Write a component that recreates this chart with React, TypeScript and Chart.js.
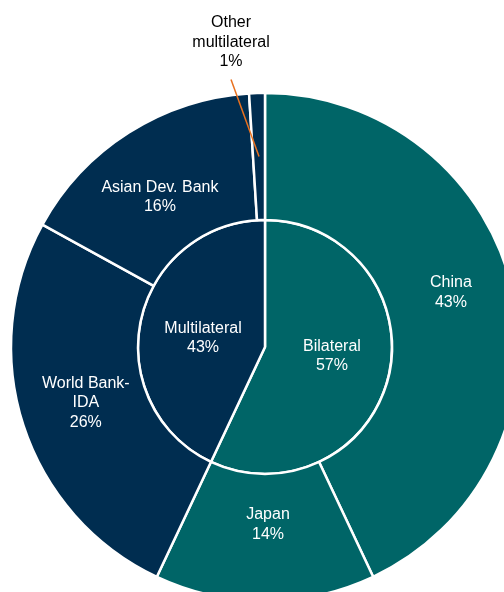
import React, { useEffect, useRef } from "react";
import { Chart, registerables } from "chart.js";

Chart.register(...registerables);

const innerLabels = ["Bilateral", "Multilateral"];
const innerValues = [57, 43];
const outerLabels = ["China", "Japan", "World Bank-\nIDA", "Asian Dev. Bank", "Other\nmultilateral"];
const outerValues = [43, 14, 26, 16, 1];
const outerGroup = [0, 0, 1, 1, 1];

const TEAL = "#006567";
const NAVY = "#002D50";
const groupColors = [TEAL, NAVY];
const FONT = "16px 'Liberation Sans', Arial, sans-serif";
const LINE_H = 19.5;

// label placement nudges (layout only), per ring and slice
const nudges = [
  [[0, -13], [3, -13], [2, -3], [-3, 11], [0, 0]],
  [[5, -5], [0, 5]],
];

const labelPlugin = {
  id: "sliceLabels",
  afterDatasetsDraw(chart: any) {
    const ctx = chart.ctx;
    ctx.save();
    ctx.font = FONT;
    ctx.textAlign = "center";
    ctx.textBaseline = "middle";
    const sets = [
      { labels: outerLabels, values: outerValues },
      { labels: innerLabels, values: innerValues },
    ];
    sets.forEach((s, di) => {
      const meta = chart.getDatasetMeta(di);
      meta.data.forEach((arc: any, i: number) => {
        const text = `${s.labels[i]}\n${s.values[i]}%`;
        const lines = text.split("\n");
        const pos = arc.tooltipPosition();
        if (di === 0 && i === s.labels.length - 1) {
          const sx = pos.x - 28;
          const sy = pos.y - 77;
          ctx.strokeStyle = "#E8711F";
          ctx.lineWidth = 1.5;
          ctx.beginPath();
          ctx.moveTo(sx, sy);
          ctx.lineTo(pos.x, pos.y);
          ctx.stroke();
          ctx.fillStyle = "#000000";
          const baseY = sy - 18 - (lines.length - 1) * LINE_H;
          lines.forEach((ln, k) => ctx.fillText(ln, sx, baseY + k * LINE_H));
          return;
        }
        const [nx, ny] = nudges[di][i];
        ctx.fillStyle = "#FFFFFF";
        const y0 = pos.y + ny - ((lines.length - 1) * LINE_H) / 2;
        lines.forEach((ln, k) => ctx.fillText(ln, pos.x + nx, y0 + k * LINE_H));
      });
    });
    ctx.restore();
  },
};

export default function App() {
  const ref = useRef<HTMLCanvasElement | null>(null);
  useEffect(() => {
    if (!ref.current) return;
    const chart = new Chart(ref.current, {
      type: "doughnut",
      data: {
        labels: outerLabels,
        datasets: [
          {
            data: outerValues,
            backgroundColor: outerGroup.map((g) => groupColors[g]),
            borderColor: "#FFFFFF",
            borderWidth: 2.5,
          },
          {
            data: innerValues,
            backgroundColor: groupColors,
            borderColor: "#FFFFFF",
            borderWidth: 2.5,
          },
        ],
      },
      options: {
        responsive: false,
        maintainAspectRatio: false,
        animation: false,
        devicePixelRatio: 1,
        events: [],
        cutout: 0,
        radius: 254,
        layout: { padding: 0 },
        plugins: {
          legend: { display: false },
          tooltip: { enabled: false },
        },
      },
      plugins: [labelPlugin],
    });
    return () => chart.destroy();
  }, []);
  return (
    <div
      style={{
        position: "fixed",
        left: 0,
        top: 0,
        width: 504,
        height: 592,
        overflow: "hidden",
        background: "#FFFFFF",
      }}
    >
      <canvas
        ref={ref}
        width={530}
        height={694}
        style={{ position: "absolute", left: 0, top: 0, width: 530, height: 694 }}
      />
    </div>
  );
}
